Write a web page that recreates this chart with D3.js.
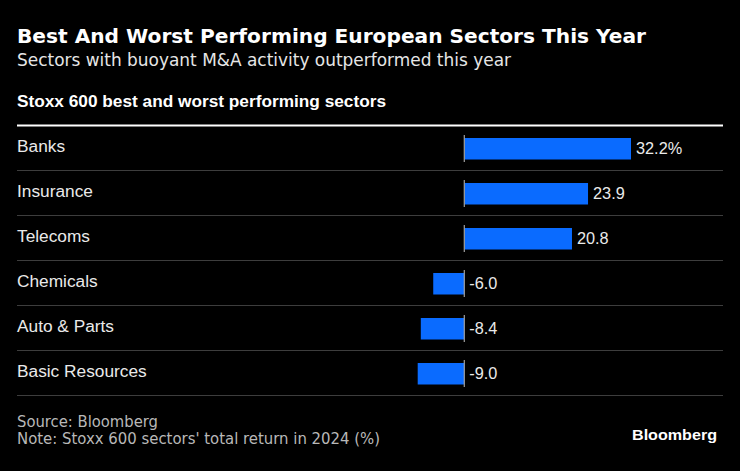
<!DOCTYPE html>
<html><head><meta charset="utf-8">
<script src="https://cdn.jsdelivr.net/npm/d3@7"></script>
<style>html,body{margin:0;padding:0;background:#000;}svg{display:block;}</style>
</head><body>
<script>
const categories = ["Banks","Insurance","Telecoms","Chemicals","Auto & Parts","Basic Resources"];
const values = [32.2, 23.9, 20.8, -6.0, -8.4, -9.0];
const valueLabels = ["32.2%","23.9","20.8","-6.0","-8.4","-9.0"];

const W = 740, H = 471;
const svg = d3.select("body").append("svg").attr("width", W).attr("height", H);
svg.append("rect").attr("width", W).attr("height", H).attr("fill", "#000");

const sans = "'Liberation Sans', Arial, Helvetica, sans-serif";

svg.append("text").attr("x", 17).attr("y", 43)
  .attr("font-family", "'DejaVu Sans', sans-serif").attr("font-weight", "bold")
  .attr("font-size", 20).attr("fill", "#fff")
  .attr("textLength", 629).attr("lengthAdjust", "spacingAndGlyphs")
  .text("Best And Worst Performing European Sectors This Year");
svg.append("text").attr("x", 17).attr("y", 66)
  .attr("font-family", "'DejaVu Sans', sans-serif")
  .attr("font-size", 17).attr("fill", "#e6e6e6")
  .attr("textLength", 494).attr("lengthAdjust", "spacingAndGlyphs")
  .text("Sectors with buoyant M&A activity outperformed this year");
svg.append("text").attr("x", 17).attr("y", 107)
  .attr("font-family", sans).attr("font-weight", "bold")
  .attr("font-size", 16).attr("fill", "#fff")
  .attr("textLength", 369).attr("lengthAdjust", "spacingAndGlyphs")
  .text("Stoxx 600 best and worst performing sectors");

const top0 = 125, rowH = 45;
const y = d3.scaleBand().domain(categories).range([top0, top0 + rowH * categories.length]).paddingInner(0).paddingOuter(0);
const x = d3.scaleLinear().domain([d3.min(values), d3.max(values)]).range([417.7, 631]);

// header line
svg.append("line").attr("x1", 17).attr("x2", 723).attr("y1", top0 + 0.5).attr("y2", top0 + 0.5)
  .attr("stroke", "#fff").attr("stroke-width", 2);

const rows = svg.selectAll("g.row").data(categories).join("g").attr("class", "row")
  .attr("transform", d => `translate(0,${y(d)})`);

rows.append("line").attr("x1", 17).attr("x2", 723)
  .attr("y1", rowH + 0.5).attr("y2", rowH + 0.5)
  .attr("stroke", "#3d3d3d").attr("stroke-width", 1);

rows.append("text").attr("x", 17).attr("y", 27.3)
  .attr("font-family", sans).attr("font-size", 17.3).attr("fill", "#eaeaea")
  .text(d => d);

rows.append("rect")
  .attr("x", (d, i) => Math.min(x(0), x(values[i])))
  .attr("width", (d, i) => Math.abs(x(values[i]) - x(0)))
  .attr("y", 13).attr("height", 21.5)
  .attr("fill", "#0a6bff");

rows.append("line").attr("x1", x(0)).attr("x2", x(0)).attr("y1", 10).attr("y2", 37)
  .attr("stroke", "#a0a0a0").attr("stroke-width", 1.2);

rows.append("text")
  .attr("x", (d, i) => Math.max(x(0), x(values[i])) + 5)
  .attr("y", 29)
  .attr("font-family", sans).attr("font-size", 16.3).attr("fill", "#eaeaea")
  .text((d, i) => valueLabels[i]);

// footer
svg.append("text").attr("x", 17).attr("y", 427)
  .attr("font-family", "'Liberation Sans Narrow', 'DejaVu Sans Condensed', sans-serif")
  .attr("font-size", 15).attr("fill", "#b8b8b8")
  .attr("textLength", 141).attr("lengthAdjust", "spacingAndGlyphs")
  .text("Source: Bloomberg");
svg.append("text").attr("x", 17).attr("y", 444)
  .attr("font-family", "'Liberation Sans Narrow', 'DejaVu Sans Condensed', sans-serif")
  .attr("font-size", 15).attr("fill", "#b8b8b8")
  .attr("textLength", 363).attr("lengthAdjust", "spacingAndGlyphs")
  .text("Note: Stoxx 600 sectors' total return in 2024 (%)");
svg.append("text").attr("x", 632).attr("y", 440)
  .attr("font-family", sans).attr("font-weight", "bold")
  .attr("font-size", 15.5).attr("fill", "#fff")
  .attr("textLength", 85).attr("lengthAdjust", "spacingAndGlyphs")
  .text("Bloomberg");
</script>
</body></html>
